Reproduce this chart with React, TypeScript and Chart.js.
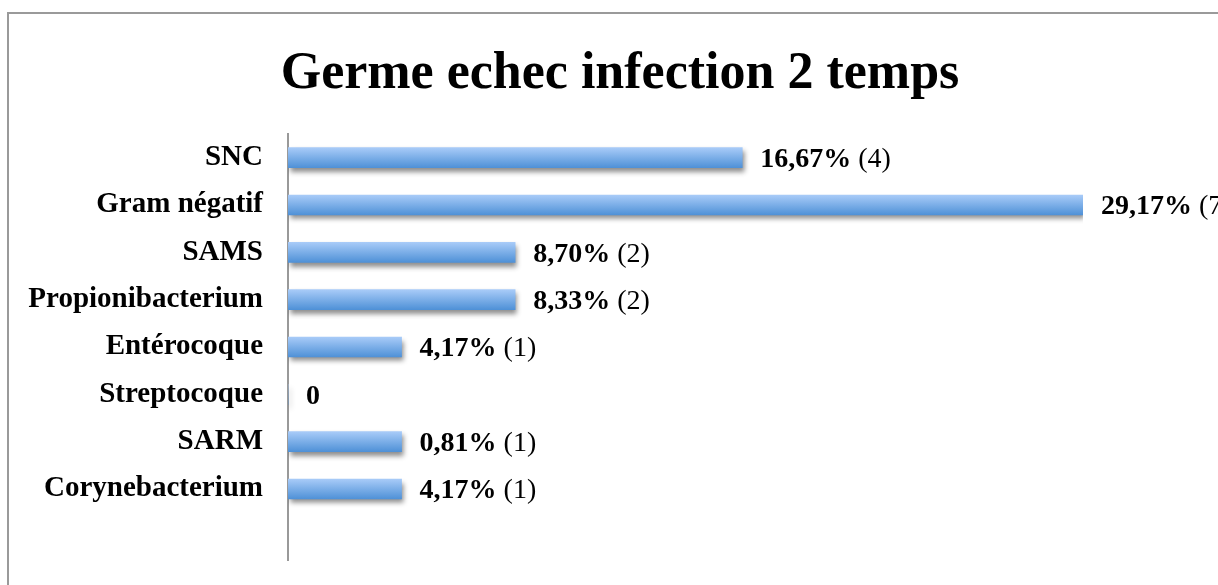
import React, { useEffect, useRef } from "react";
import { Chart, registerables } from "chart.js";

Chart.register(...registerables);

const chartTitle = "Germe echec infection 2 temps";
const categories = [
  "SNC",
  "Gram négatif",
  "SAMS",
  "Propionibacterium",
  "Entérocoque",
  "Streptocoque",
  "SARM",
  "Corynebacterium",
];
const counts = [4, 7, 2, 2, 1, 0, 1, 1];
const percentLabels = ["16,67%", "29,17%", "8,70%", "8,33%", "4,17%", "0", "0,81%", "4,17%"];
const countLabels = ["(4)", "(7)", "(2)", "(2)", "(1)", "", "(1)", "(1)"];

const FONT = "'Liberation Serif', 'DejaVu Serif', serif";

const shadowPlugin = {
  id: "barShadow",
  beforeDatasetsDraw(chart: any) {
    const ctx = chart.ctx;
    ctx.save();
    ctx.shadowColor = "rgba(0,0,0,0.45)";
    ctx.shadowOffsetX = 2;
    ctx.shadowOffsetY = 4;
    ctx.shadowBlur = 5;
  },
  afterDatasetsDraw(chart: any) {
    chart.ctx.restore();
  },
};

const labelsPlugin = {
  id: "valueLabels",
  afterDraw(chart: any) {
    const ctx = chart.ctx;
    const meta = chart.getDatasetMeta(0);
    ctx.save();
    ctx.textBaseline = "middle";
    ctx.textAlign = "left";
    ctx.fillStyle = "#000";
    meta.data.forEach((el: any, i: number) => {
      if (i >= percentLabels.length) return;
      const x = el.x + 18;
      const y = el.y + 2;
      ctx.font = `bold 28px ${FONT}`;
      ctx.fillText(percentLabels[i], x, y);
      const w = ctx.measureText(percentLabels[i] + " ").width;
      if (countLabels[i]) {
        ctx.font = `normal 28px ${FONT}`;
        ctx.fillText(countLabels[i], x + w, y);
      }
    });
    ctx.font = `bold 52px ${FONT}`;
    ctx.textAlign = "center";
    ctx.textBaseline = "alphabetic";
    ctx.fillText(chartTitle, 620, 88);
    ctx.restore();
  },
};

export default function App() {
  const ref = useRef<HTMLCanvasElement>(null);
  useEffect(() => {
    if (!ref.current) return;
    const chart = new Chart(ref.current, {
      type: "bar",
      data: {
        labels: [...categories, ""],
        datasets: [
          {
            data: [...counts, null] as any,
            barThickness: 20,
            borderWidth: 0,
            backgroundColor: (c: any) => {
              const ch = c.chart;
              const ys = ch.scales && ch.scales.y;
              if (!ys || !ch.chartArea || c.dataIndex === undefined) return "#7aaee8";
              const cy = ys.getPixelForValue(c.dataIndex);
              const g = ch.ctx.createLinearGradient(0, cy - 10, 0, cy + 10);
              g.addColorStop(0, "#a8cbf8");
              g.addColorStop(1, "#4f91d7");
              return g;
            },
          },
        ],
      },
      options: {
        indexAxis: "y",
        responsive: false,
        animation: false,
        layout: { padding: { top: 134, bottom: 25, right: 135, left: 0 } },
        plugins: {
          legend: { display: false },
          title: { display: false },
          tooltip: { enabled: false },
        },
        scales: {
          x: { display: false, min: 0, max: 7 },
          y: {
            grid: { display: false, drawTicks: false },
            border: { display: true, color: "#999", width: 2 },
            ticks: {
              padding: 25,
              color: "#000",
              font: { family: FONT, weight: "bold", size: 29 },
            },
            afterFit: (s: any) => {
              s.width = 288;
              s.paddingTop = 0;
              s.paddingBottom = 0;
            },
          },
        },
      },
      plugins: [shadowPlugin, labelsPlugin],
    });
    return () => chart.destroy();
  }, []);
  return (
    <div style={{ position: "fixed", left: 0, top: 0, width: 1218, height: 585, overflow: "hidden", background: "#fff" }}>
      <div
        style={{
          position: "absolute",
          left: 7,
          top: 12,
          width: 1400,
          height: 800,
          border: "2px solid #9a9a9a",
        }}
      />
      <canvas ref={ref} width={1218} height={585} style={{ position: "absolute", left: 0, top: 0 }} />
    </div>
  );
}
